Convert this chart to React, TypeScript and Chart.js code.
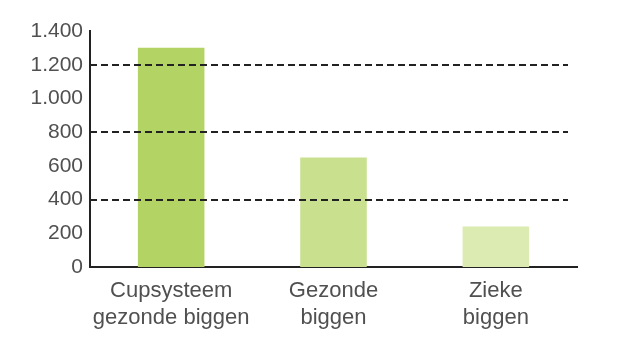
import React, { useEffect, useRef } from "react";
import { Chart, registerables } from "chart.js";

Chart.register(...registerables);

const categories: string[][] = [
  ["Cupsysteem", "gezonde biggen"],
  ["Gezonde", "biggen"],
  ["Zieke", "biggen"],
];
const values: number[] = [1300, 650, 240];
const barColors: string[] = ["#b3d465", "#c9e08f", "#dbebb2"];
const dashedAt: number[] = [400, 800, 1200];

const dashedLines = {
  id: "dashedLines",
  afterDatasetsDraw(chart: any) {
    const { ctx, chartArea, scales } = chart;
    ctx.save();
    ctx.strokeStyle = "#222";
    ctx.lineWidth = 2;
    ctx.setLineDash([7, 4]);
    for (const v of dashedAt) {
      const y = Math.round(scales.y.getPixelForValue(v));
      ctx.beginPath();
      ctx.moveTo(chartArea.left, y);
      ctx.lineTo(chartArea.right - 9, y);
      ctx.stroke();
    }
    ctx.restore();
  },
};

export default function App() {
  const ref = useRef<HTMLCanvasElement | null>(null);

  useEffect(() => {
    if (!ref.current) return;
    const chart = new Chart(ref.current, {
      type: "bar",
      data: {
        labels: categories,
        datasets: [
          {
            data: values,
            backgroundColor: barColors,
            borderWidth: 0,
            barPercentage: 0.41,
            categoryPercentage: 1,
          },
        ],
      },
      plugins: [dashedLines],
      options: {
        animation: false,
        responsive: false,
        maintainAspectRatio: false,
        layout: { padding: { left: 0, top: 31, right: 55, bottom: 0 } },
        plugins: { legend: { display: false }, tooltip: { enabled: false } },
        scales: {
          x: {
            grid: { display: false, drawTicks: false },
            border: { display: true, color: "#222", width: 2 },
            ticks: {
              color: "#505050",
              padding: 11,
              font: { family: "'Liberation Sans', Arial, sans-serif", size: 22, lineHeight: 1.2 },
              maxRotation: 0,
              autoSkip: false,
            },
            afterFit: (s: any) => {
              s.height = 85;
            },
          },
          y: {
            min: 0,
            max: 1400,
            grid: { display: false, drawTicks: false },
            border: { display: true, color: "#222", width: 2 },
            ticks: {
              stepSize: 200,
              color: "#505050",
              padding: 7,
              font: { family: "'Liberation Sans', Arial, sans-serif", size: 21 },
              callback: (v: any) => Number(v).toLocaleString("nl-NL"),
            },
            afterFit: (s: any) => {
              s.width = 90;
            },
          },
        },
      },
    });
    return () => chart.destroy();
  }, []);

  return (
    <div style={{ position: "fixed", left: 0, top: 0, width: 632, height: 352, background: "#fff" }}>
      <canvas ref={ref} width={632} height={352} style={{ display: "block", width: 632, height: 352 }} />
    </div>
  );
}
